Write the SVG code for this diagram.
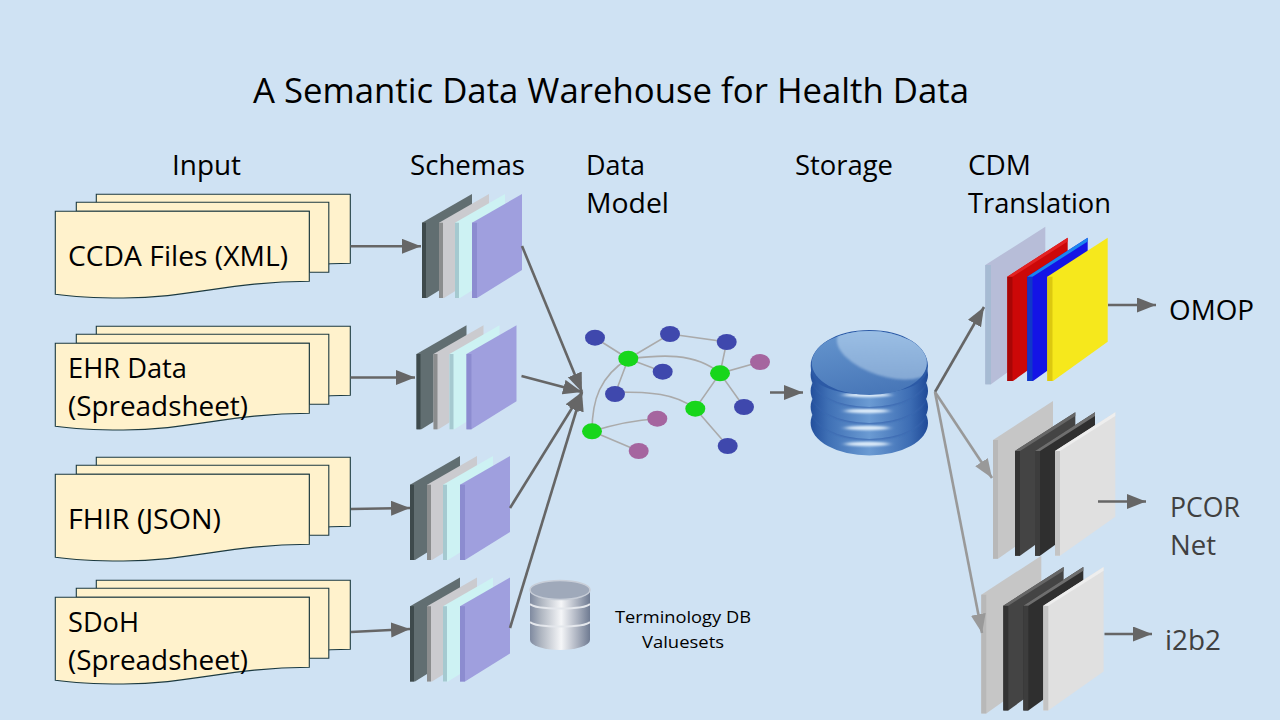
<svg xmlns="http://www.w3.org/2000/svg" width="1280" height="720" viewBox="0 0 1280 720">
<style>
text{font-family:"Open Sans","Noto Sans","Liberation Sans",sans-serif;fill:#000}
.t{font-size:26.700px}
.g{fill:#404040}
.doc{fill:#fff2cc;stroke:#1c3a40;stroke-width:1.1}
.a{fill:none;stroke:#666;stroke-width:2.6;marker-end:url(#h)}
.b{fill:none;stroke:#999;stroke-width:2.6;marker-end:url(#k)}
.e{fill:none;stroke:#aaa;stroke-width:1.6}
.nb{fill:#3f48ad}.np{fill:#a5659f}.ng{fill:#17d61b}
.hl{fill:#dcebf9;filter:url(#soft)}
</style>
<defs>
<marker id="h" markerUnits="userSpaceOnUse" markerWidth="20" markerHeight="16" refX="19" refY="7.5" orient="auto"><path d="M0,0L19,7.5L0,15Z" fill="#666"/></marker>
<marker id="k" markerUnits="userSpaceOnUse" markerWidth="20" markerHeight="16" refX="19" refY="7.5" orient="auto"><path d="M0,0L19,7.5L0,15Z" fill="#999"/></marker>
<filter id="soft" x="-30%" y="-100%" width="160%" height="300%"><feGaussianBlur stdDeviation="3 1.2"/></filter>
<filter id="soft1" x="-10%" y="-10%" width="120%" height="120%"><feGaussianBlur stdDeviation="0.8"/></filter>
<g id="docs">
<path class="doc" d="M41,0V-17H295V52C275,52 265,53 254,54V0Z"/>
<path class="doc" d="M21,0V-9H273.500V61H254V0Z"/>
<path class="doc" d="M0,0H254V70C175,70 135,86.700 68,86.700C40,86.700 20,86 0,83Z"/>
</g>
<g id="schema">
<path d="M0,28.700L50,0V76L5,104H0Z" fill="#616e71"/><path d="M0,28.700H4V104H0Z" fill="#3e4a4c"/>
<path d="M17,28.700L67,0V76L22,104H17Z" fill="#cbcbcf"/><path d="M17,28.700H21V104H17Z" fill="#8b8d8e"/>
<path d="M33,28.700L83,0V76L38,104H33Z" fill="#cdf2f3"/><path d="M33,28.700H37V104H33Z" fill="#a5c9d0"/>
<path d="M50,28.700L100,0V76L55,104H50Z" fill="#9f9fde"/><path d="M50,28.700H55V104H50Z" fill="#8c8cd0"/>
</g>
<g id="greystack">
<path d="M0,39L60,0V119L5,157.700H0Z" fill="#c6c6c6"/><path d="M0,39H5V157.700H0Z" fill="#b8b8b8"/>
<path d="M22,50L82.300,11.300V115L27,154.700H22Z" fill="#444"/><path d="M22,50H27V154.700H22Z" fill="#333"/><path d="M22,50L82.300,11.300V15L27,50Z" fill="#666"/>
<path d="M42,50L102,11.300V115L47,154.700H42Z" fill="#2f2f2f"/><path d="M42,50H47V154.700H42Z" fill="#3d3d3d"/><path d="M42,50L102,11.300V15L47,50Z" fill="#6e6e6e"/>
<path d="M62,50L122.300,11.300V115.700L67,154.700H62Z" fill="#e0e0e0"/><path d="M62,50H67V154.700H62Z" fill="#c4c4c4"/><path d="M62,50L122.300,11.300V15L67,50Z" fill="#eee"/>
</g>
<linearGradient id="dbTop" x1="0.150" y1="0" x2="0.500" y2="1"><stop offset="0" stop-color="#6595ce"/><stop offset="1" stop-color="#4877b8"/></linearGradient>
<linearGradient id="dbShine" x1="0" y1="0" x2="0.700" y2="1"><stop offset="0" stop-color="#a2c6ea"/><stop offset="1" stop-color="#84a8d4"/></linearGradient>
<linearGradient id="dbBody" x1="0" y1="0" x2="1" y2="0"><stop offset="0" stop-color="#234f9c"/><stop offset="0.150" stop-color="#3f70b5"/><stop offset="0.500" stop-color="#6b9bd3"/><stop offset="0.850" stop-color="#3c6cb3"/><stop offset="1" stop-color="#1f4a98"/></linearGradient>
<linearGradient id="dbSmall" x1="0" y1="0" x2="1" y2="0"><stop offset="0" stop-color="#7f8aa0"/><stop offset="0.180" stop-color="#aeb5c0"/><stop offset="0.520" stop-color="#f5f6f8"/><stop offset="0.800" stop-color="#a8afbd"/><stop offset="1" stop-color="#6f7b92"/></linearGradient>
<clipPath id="topClip"><ellipse cx="869.300" cy="363" rx="57.500" ry="32"/></clipPath>
</defs>

<rect id="background" width="1280" height="720" fill="#cfe2f3"/>

<text id="title" x="253" y="102.500" font-size="34.500" textLength="716" lengthAdjust="spacingAndGlyphs">A Semantic Data Warehouse for Health Data</text>

<g id="headers">
<text class="t" x="172" y="174.500" textLength="69" lengthAdjust="spacingAndGlyphs">Input</text>
<text class="t" x="410" y="174.500" textLength="115" lengthAdjust="spacingAndGlyphs">Schemas</text>
<text class="t" x="586" y="174.500" textLength="59" lengthAdjust="spacingAndGlyphs">Data</text>
<text class="t" x="586" y="212.500" textLength="83" lengthAdjust="spacingAndGlyphs">Model</text>
<text class="t" x="795" y="174.500" textLength="98" lengthAdjust="spacingAndGlyphs">Storage</text>
<text class="t" x="968" y="174.500" textLength="63" lengthAdjust="spacingAndGlyphs">CDM</text>
<text class="t" x="968" y="212.500" textLength="143" lengthAdjust="spacingAndGlyphs">Translation</text>
</g>

<g id="input-ccda"><use href="#docs" x="55.300" y="211.300"/><text class="t" x="68" y="265.500" textLength="220" lengthAdjust="spacingAndGlyphs">CCDA Files (XML)</text></g>
<g id="input-ehr"><use href="#docs" x="55.300" y="343.300"/><text class="t" x="68" y="377.500" textLength="119" lengthAdjust="spacingAndGlyphs">EHR Data</text><text class="t" x="68" y="415.500" textLength="180" lengthAdjust="spacingAndGlyphs">(Spreadsheet)</text></g>
<g id="input-fhir"><use href="#docs" x="55.300" y="474.300"/><text class="t" x="68" y="528.500" textLength="153" lengthAdjust="spacingAndGlyphs">FHIR (JSON)</text></g>
<g id="input-sdoh"><use href="#docs" x="55.300" y="597.300"/><text class="t" x="68" y="631.500" textLength="71" lengthAdjust="spacingAndGlyphs">SDoH</text><text class="t" x="68" y="669.500" textLength="180" lengthAdjust="spacingAndGlyphs">(Spreadsheet)</text></g>

<g id="schema-1"><use href="#schema" x="422" y="194"/></g>
<g id="schema-2"><use href="#schema" x="416.500" y="325.300"/></g>
<g id="schema-3"><use href="#schema" x="410" y="456"/></g>
<g id="schema-4"><use href="#schema" x="410" y="577.500"/></g>

<g id="data-model">
<g id="model-edges">
<path class="e" d="M595,337.700L628.300,358.700L670,334L726.700,342L720,373.300L760,362"/>
<path class="e" d="M662.700,371.700L628.300,358.700L615,394"/>
<path class="e" d="M628.300,358.700C660,355 695,352 720,373.300"/>
<path class="e" d="M615,392C650,392 675,393 695.300,408.700L720,373.300L744,407"/>
<path class="e" d="M695.300,408.700L727.700,446"/>
<path class="e" d="M628.300,358.700C600,376 592,400 592,431.300"/>
<path class="e" d="M592,431.300C612,425 635,420 657.300,418.700"/>
<path class="e" d="M592,431.300L638.700,451"/>
</g>
<ellipse class="nb" cx="595" cy="337.700" rx="10" ry="8"/>
<ellipse class="nb" cx="670" cy="334" rx="10" ry="8"/>
<ellipse class="nb" cx="726.700" cy="342" rx="10" ry="8"/>
<ellipse class="nb" cx="662.700" cy="371.700" rx="10" ry="8"/>
<ellipse class="nb" cx="615" cy="394" rx="10" ry="8"/>
<ellipse class="nb" cx="744" cy="407" rx="10" ry="8"/>
<ellipse class="nb" cx="727.700" cy="446" rx="10" ry="8"/>
<ellipse class="np" cx="760" cy="362" rx="10" ry="8"/>
<ellipse class="np" cx="657.300" cy="418.700" rx="10" ry="8"/>
<ellipse class="np" cx="638.700" cy="451" rx="10" ry="8"/>
<ellipse class="ng" cx="628.300" cy="358.700" rx="10" ry="8"/>
<ellipse class="ng" cx="720" cy="373.300" rx="10" ry="8"/>
<ellipse class="ng" cx="695.300" cy="408.700" rx="10" ry="8"/>
<ellipse class="ng" cx="592" cy="431.300" rx="10" ry="8"/>
</g>

<g id="storage">
<ellipse cx="869.300" cy="423" rx="58.700" ry="32.500" fill="url(#dbBody)"/>
<ellipse class="hl" cx="867" cy="444" rx="22" ry="2.200"/>
<path d="M811,412C818,430 842,440 869.300,440C897,440 921,430 928,412C921,427 897,436 869.300,436C842,436 818,427 811,412Z" fill="#3a68b0" filter="url(#soft1)"/>
<ellipse cx="869.300" cy="407" rx="58.700" ry="32" fill="url(#dbBody)"/>
<ellipse class="hl" cx="867" cy="428" rx="22" ry="2.200"/>
<path d="M811,396C818,414 842,424 869.300,424C897,424 921,414 928,396C921,411 897,420 869.300,420C842,420 818,411 811,396Z" fill="#3a68b0" filter="url(#soft1)"/>
<ellipse cx="869.300" cy="391" rx="58.700" ry="32" fill="url(#dbBody)"/>
<ellipse class="hl" cx="867" cy="411" rx="22" ry="2.200"/>
<path d="M811,380C818,398 842,408 869.300,408C897,408 921,398 928,380C921,395 897,404 869.300,404C842,404 818,395 811,380Z" fill="#3a68b0" filter="url(#soft1)"/>
<ellipse cx="869.300" cy="375" rx="58.700" ry="32" fill="url(#dbBody)"/>
<ellipse class="hl" cx="867" cy="395" rx="24" ry="2.200"/>
<path d="M810.700,366C810.700,346 836,330 869.300,330C903,330 928,346 928,366C928,378 918,385 905,389C880,396 850,396 830,389C818,385 810.700,378 810.700,366Z" fill="#2c5aa6"/>
<ellipse cx="869.300" cy="363" rx="57.500" ry="32" fill="url(#dbTop)"/>
<g clip-path="url(#topClip)"><ellipse cx="885" cy="352" rx="50" ry="24" transform="rotate(18 885 352)" fill="url(#dbShine)" filter="url(#soft1)"/></g>
</g>

<g id="terminology-db">
<rect x="530" y="590" width="60" height="50" fill="url(#dbSmall)"/>
<ellipse cx="560" cy="640" rx="30" ry="10" fill="url(#dbSmall)"/>
<path d="M530,604C536,610 584,610 590,604" fill="none" stroke="#e4e7ec" stroke-width="2"/>
<path d="M530,622C536,628 584,628 590,622" fill="none" stroke="#e4e7ec" stroke-width="2"/>
<ellipse cx="560" cy="590" rx="30" ry="9.500" fill="#9fa9ba" stroke="#c8ced8" stroke-width="1.500"/>
<text x="683" y="623" font-size="17" text-anchor="middle" textLength="136" lengthAdjust="spacingAndGlyphs">Terminology DB</text>
<text x="683" y="648" font-size="17" text-anchor="middle" textLength="82" lengthAdjust="spacingAndGlyphs">Valuesets</text>
</g>

<g id="cdm-omop">
<path d="M985.300,265L1045.300,226.700V345L991,384.300H985.300Z" fill="#b7bdd8"/><path d="M985.300,265H991V384.300H985.300Z" fill="#a6bbd3"/>
<path d="M1007.300,276.700L1067.700,237.700V341.700L1013,381H1007.300Z" fill="#cc0808"/><path d="M1007.300,276.700H1012.500V381H1007.300Z" fill="#a80606"/><path d="M1007.300,276.700L1067.700,237.700V241.500L1012.500,276.700Z" fill="#e32222"/>
<path d="M1027.300,276.700L1087.700,237.700V341.700L1033,381H1027.300Z" fill="#1414e6"/><path d="M1027.300,276.700H1032.500V381H1027.300Z" fill="#1038c8"/><path d="M1027.300,276.700L1087.700,237.700V241.500L1032.500,276.700Z" fill="#1a86ee"/>
<path d="M1047.300,276.700L1107.700,237.700V341.700L1053,381H1047.300Z" fill="#f6e81c"/><path d="M1047.300,276.700H1052.500V381H1047.300Z" fill="#dcc810"/>
<text class="t" x="1169" y="319.500" textLength="85" lengthAdjust="spacingAndGlyphs">OMOP</text>
</g>
<g id="cdm-pcornet"><use href="#greystack" x="993" y="401"/>
<text class="t g" x="1170" y="516.500" textLength="70" lengthAdjust="spacingAndGlyphs">PCOR</text>
<text class="t g" x="1170" y="554.500" textLength="46" lengthAdjust="spacingAndGlyphs">Net</text>
</g>
<g id="cdm-i2b2"><use href="#greystack" x="981.300" y="555.700"/>
<text class="t g" x="1165" y="649.500" textLength="56" lengthAdjust="spacingAndGlyphs">i2b2</text>
</g>

<g id="connectors">
<path class="a" d="M350.500,246.300H421"/>
<path class="a" d="M350.500,377.500H415"/>
<path class="a" d="M351,509L410,508"/>
<path class="a" d="M351,632L410,629"/>
<path class="a" d="M522,246L582,392"/>
<path class="a" d="M521.500,376L582,392"/>
<path class="a" d="M510,508L582,392"/>
<path class="a" d="M510,628L582,392"/>
<path class="a" d="M770,392.500H803"/>
<path class="a" d="M935,392L984,307"/>
<path class="b" d="M935,392L992,478"/>
<path class="b" d="M935,392L982,633"/>
<path class="a" d="M1108,305H1156"/>
<path class="a" d="M1098,501.500H1146"/>
<path class="a" d="M1104.500,634H1152"/>
</g>
</svg>
